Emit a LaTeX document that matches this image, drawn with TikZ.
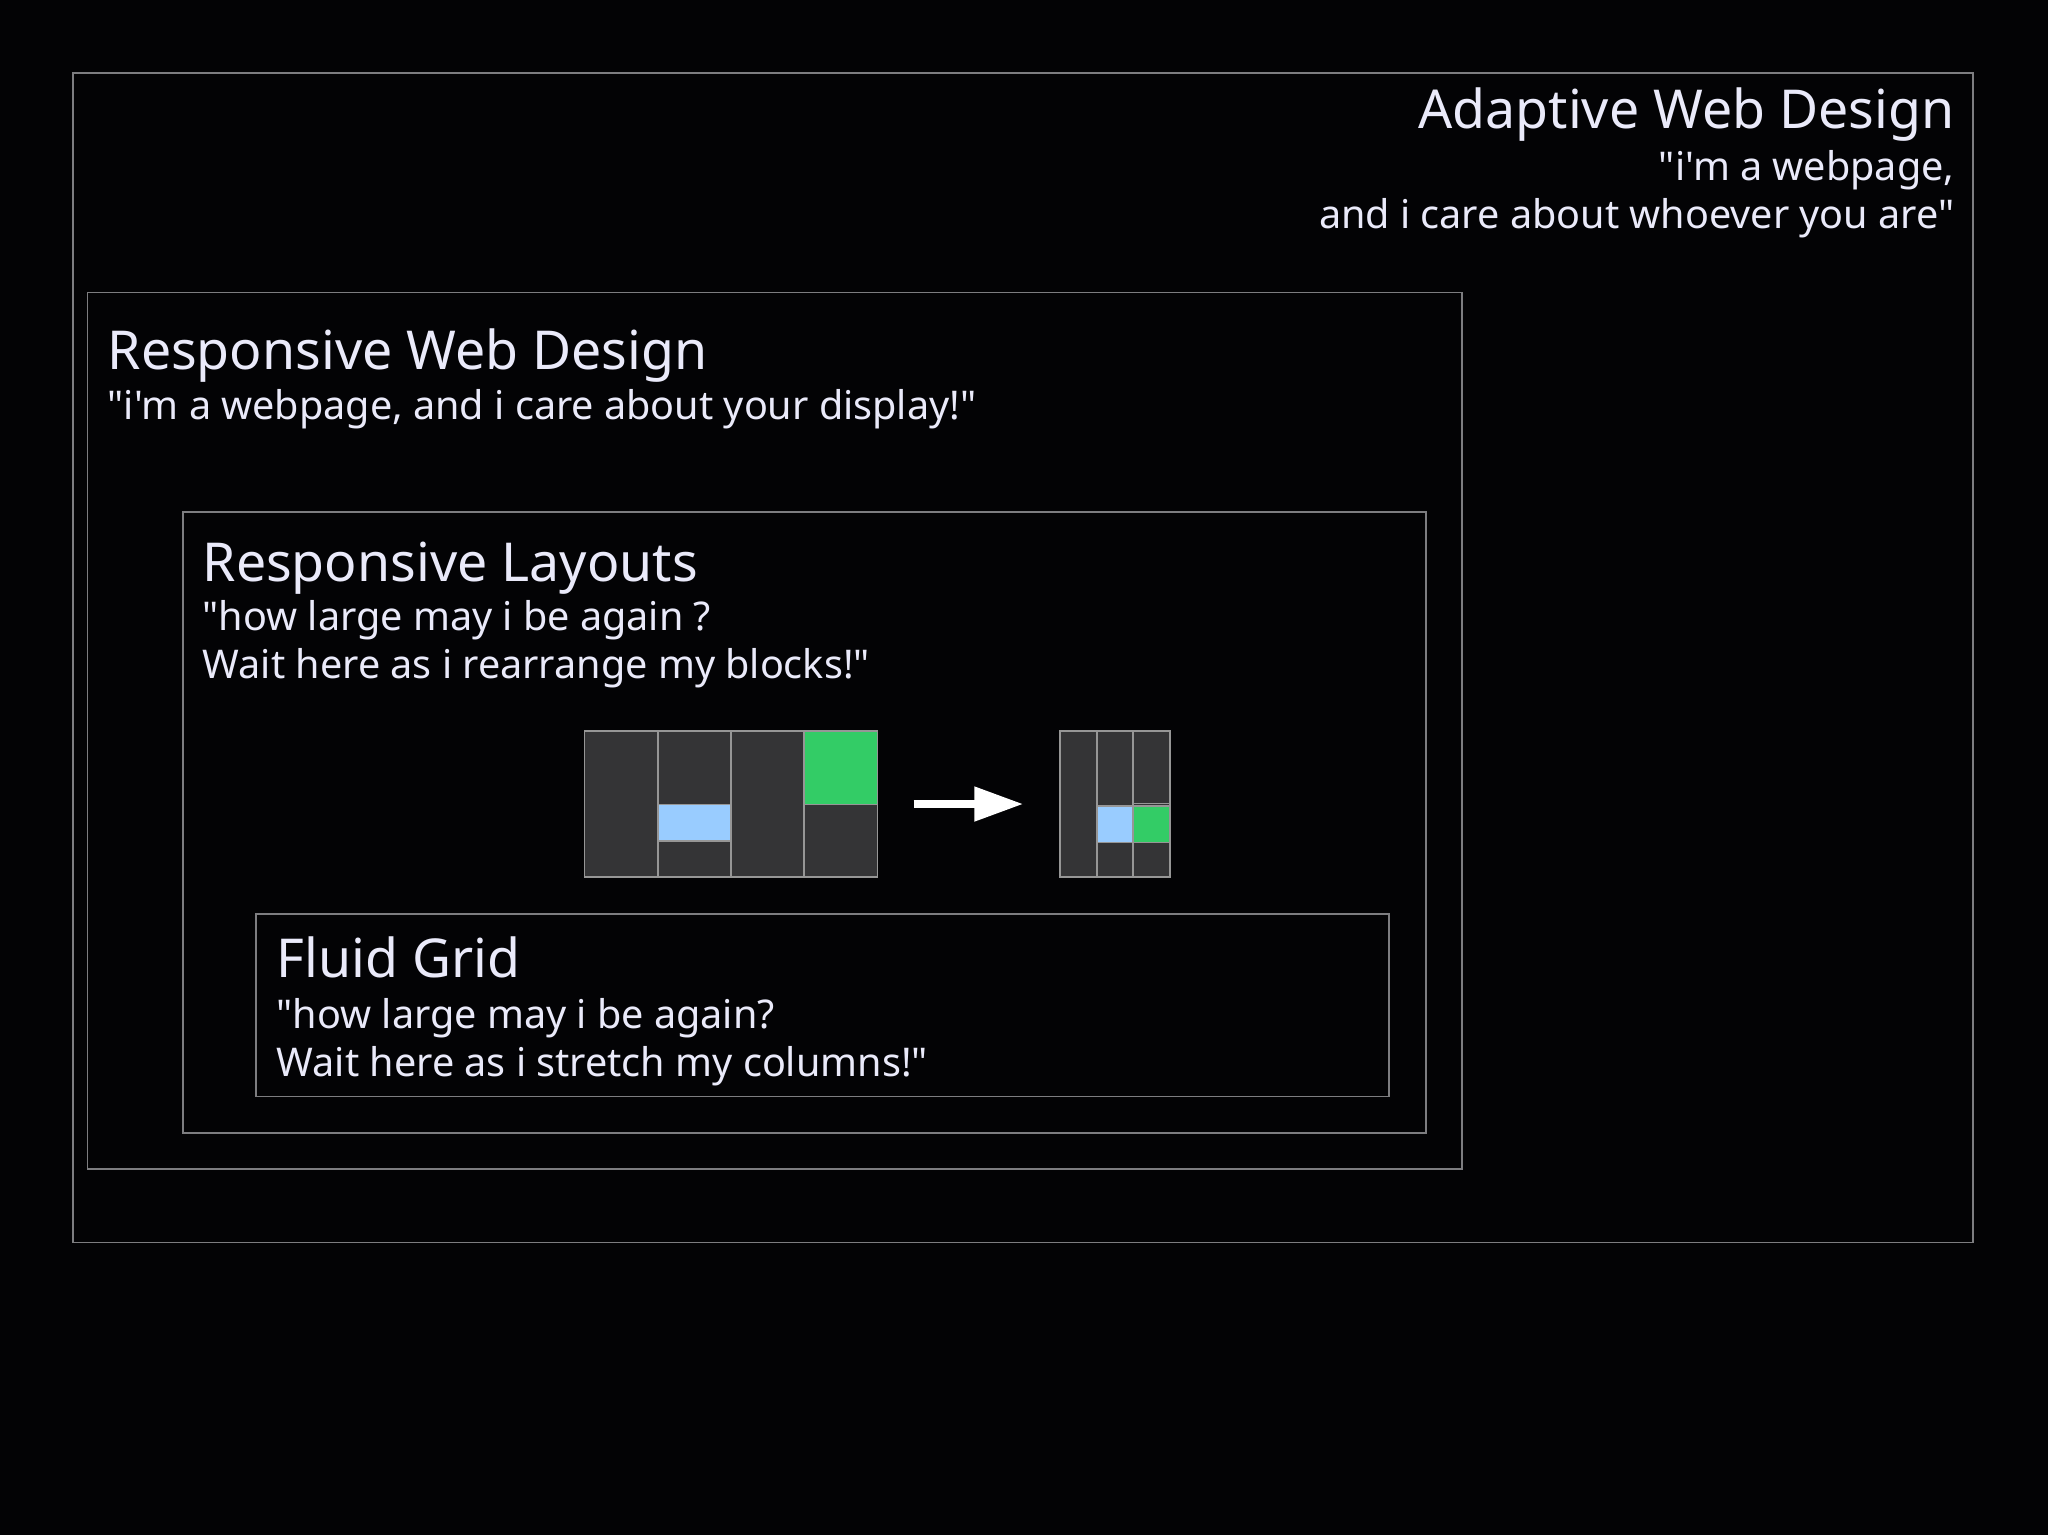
\documentclass[tikz,border=0pt]{standalone}
\usepackage{fontspec}
\setmainfont{Noto Sans}[Ligatures=TeXOff]
\usetikzlibrary{arrows.meta}
\definecolor{bgcol}{RGB}{3,3,5}
\definecolor{txtcol}{RGB}{234,234,250}
\definecolor{boxcol}{RGB}{125,125,128}
\definecolor{cellcol}{RGB}{52,52,54}
\definecolor{celledge}{RGB}{150,150,150}
\definecolor{bluecell}{RGB}{153,204,255}
\definecolor{greencell}{RGB}{51,204,102}
\tikzset{
  titletext/.style={inner sep=0pt, text=txtcol, font=\fontsize{15.25}{19}\selectfont},
  quotetext/.style={inner sep=0pt, text=txtcol, font=\fontsize{11.25}{13.7}\selectfont},
  frame/.style={draw=boxcol, line width=0.45pt},
  cell/.style={fill=cellcol},
  celllines/.style={draw=celledge, line width=0.5pt},
}
\begin{document}
\begin{tikzpicture}[x=0.01cm, y=-0.01cm]
    \fill[bgcol] (0,0) rectangle (2048,1535);
    \useasboundingbox (0,0) rectangle (2048,1535);

    % the four nested boxes
    \coordinate (AdaptiveNW)   at (73,73);
    \coordinate (AdaptiveSE)   at (1973,1242.5);
    \coordinate (ResponsiveNW) at (87.5,292.5);
    \coordinate (ResponsiveSE) at (1462,1169);
    \coordinate (LayoutsNW)    at (183,512);
    \coordinate (LayoutsSE)    at (1426,1133);
    \coordinate (FluidNW)      at (256,914);
    \coordinate (FluidSE)      at (1389,1096.5);
    \draw[frame] (AdaptiveNW) rectangle (AdaptiveSE);
    \draw[frame] (ResponsiveNW) rectangle (ResponsiveSE);
    \draw[frame] (LayoutsNW) rectangle (LayoutsSE);
    \draw[frame] (FluidNW) rectangle (FluidSE);

    % titles and quotes
    \node[titletext, anchor=base east] (adaptivetitle) at (1955,128.5) {Adaptive Web Design};
    \node[quotetext, anchor=base east] (adaptivequoteA) at (1955,180.5) {"i'm a webpage,};
    \node[quotetext, anchor=base east] (adaptivequoteB) at (1955,228.5) {and i care about whoever you are"};

    \node[titletext, anchor=base west] (responsivetitle) at (107,369.5) {Responsive Web Design};
    \node[quotetext, anchor=base west] (responsivequote) at (107,419.5) {"i'm a webpage, and i care about your display!"};

    \node[titletext, anchor=base west] (layoutstitle) at (202,581) {Responsive Layouts};
    \node[quotetext, anchor=base west] (layoutsquoteA) at (202,630) {"how large may i be again ?};
    \node[quotetext, anchor=base west] (layoutsquoteB) at (202,678.5) {Wait here as i rearrange my blocks!"};

    \node[titletext, anchor=base west] (fluidtitle) at (276,977) {Fluid Grid};
    \node[quotetext, anchor=base west] (fluidquoteA) at (276,1028.5) {"how large may i be again?};
    \node[quotetext, anchor=base west] (fluidquoteB) at (276,1076.5) {Wait here as i stretch my columns!"};

    % wide grid: four columns
    \coordinate (BigGridNW) at (584.6,731);
    \coordinate (BigGridSE) at (877.6,877);
    \fill[cell] (BigGridNW) rectangle (BigGridSE);
    \fill[bluecell] (657.85,804.5) rectangle (731.1,841);
    \fill[greencell] (804.35,731) rectangle (877.6,804.5);
    \draw[celllines] (BigGridNW) rectangle (BigGridSE);
    \foreach \x in {1,2,3}{% column dividers
      \draw[celllines] (584.6+73.25*\x,731) -- (584.6+73.25*\x,877);
    }
    \draw[celllines] (657.85,804.5) -- (731.1,804.5);
    \draw[celllines] (657.85,841) -- (731.1,841);
    \draw[celllines] (804.35,804.5) -- (877.6,804.5);

    % narrow grid: three columns
    \coordinate (SmallGridNW) at (1060.3,731);
    \coordinate (SmallGridSE) at (1169.8,877);
    \fill[cell] (SmallGridNW) rectangle (SmallGridSE);
    \fill[bluecell] (1096.8,806) rectangle (1133.3,842.5);
    \fill[greencell] (1133.3,806) rectangle (1169.8,842.5);
    \draw[celllines] (SmallGridNW) rectangle (SmallGridSE);
    \foreach \x in {1,2}{% column dividers
      \draw[celllines] (1060.3+36.5*\x,731) -- (1060.3+36.5*\x,877);
    }
    \draw[celllines] (1096.8,806) -- (1169.8,806);
    \draw[celllines] (1133.3,803.5) -- (1169.8,803.5);
    \draw[celllines] (1096.8,842.5) -- (1169.8,842.5);

    % arrow from wide to narrow
    \coordinate (BigGridE)   at (877.6,804);
    \coordinate (SmallGridW) at (1060.3,804);
    \draw[white, line width=0.08cm, -{Triangle[length=0.49cm,width=0.33cm]},
          shorten <=0.36cm, shorten >=0.37cm] (BigGridE) -- (SmallGridW);
\end{tikzpicture}
\end{document}
